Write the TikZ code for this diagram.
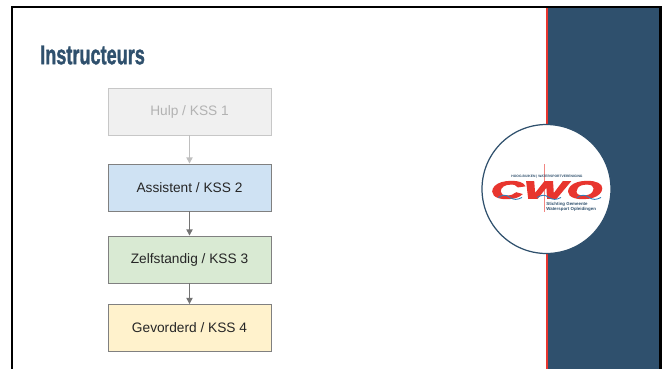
\documentclass[tikz,border=0pt]{standalone}
\usepackage{fontspec}
\setmainfont{Liberation Sans}
\newfontfamily\heavyfont[BoldFeatures={FakeBold=1.5}]{Liberation Sans}
\newfontfamily\logofont[BoldItalicFeatures={FakeBold=4}]{Liberation Sans}
\usetikzlibrary{arrows.meta}
\definecolor{cwoblue}{HTML}{2F506D}
\definecolor{cwored}{HTML}{E8352E}
\definecolor{waveblue}{HTML}{2F7FB8}
\definecolor{kssblue}{HTML}{CFE2F3}
\definecolor{kssgreen}{HTML}{D9EAD3}
\definecolor{kssyellow}{HTML}{FFF2CC}
\begin{document}
\begin{tikzpicture}[x=0.02cm, y=-0.02cm]
			\tikzstyle{levelnode}=[
			draw=black!50,
			line width=0.5pt,
			rectangle,
			minimum width=163*0.02cm,
			minimum height=47*0.02cm,
			inner sep=0pt,
			text=black!85,
			font=\fontsize{7.8}{10}\selectfont
			]
			\tikzstyle{levelarrow}=[
			draw=black!55,
			line width=0.7pt,
			-{Triangle[length=3.5pt,width=3.5pt]}
			]
			\useasboundingbox (0,0) rectangle (667,369);
			\fill[white] (0,0) rectangle (667,369);
			\fill[cwoblue] (546,6) rectangle (662,369);
			\fill[cwored] (546,8) rectangle (548,369);
			\draw[black, line width=1.2pt] (12,369) -- (12,7) -- (660.5,7) -- (660.5,369);
			\node[font=\heavyfont\bfseries\fontsize{15.5}{18}\selectfont, text=cwoblue, xscale=0.665, transform shape, anchor=west, inner sep=0pt] (TITLE) at (40,55) {Instructeurs};
			% levels
			\node[levelnode, fill=black!6, draw=black!22, text=black!30] (KSSA) at (189.5,111.5) {Hulp / KSS 1};
			\node[levelnode, fill=kssblue] (KSSB) at (189.5,187.5) {Assistent / KSS 2};
			\node[levelnode, fill=kssgreen] (KSSC) at (189.5,259.5) {Zelfstandig / KSS 3};
			\node[levelnode, fill=kssyellow] (KSSD) at (189.5,328) {Gevorderd / KSS 4};
			\draw[levelarrow, draw=black!25] (KSSA) -- (KSSB);
			\draw[levelarrow] (KSSB) -- (KSSC);
			\draw[levelarrow] (KSSC) -- (KSSD);
			% logo
			\node[circle, draw=cwoblue, fill=white, line width=0.7pt, minimum size=129*0.02cm, inner sep=0pt] (LOGO) at (546.5,189) {};
			\draw[cwored!60, line width=0.3pt] (544,164) -- (544,212);
			\node[font=\logofont\bfseries\itshape\fontsize{14}{14}\selectfont, text=cwored, xscale=1.85, transform shape, inner sep=0pt] (CWO) at (546.5,190) {CWO};
			\foreach \wavex in {498,537,577} {
				\draw[waveblue, line width=0.5pt] (\wavex,197.5) .. controls (\wavex+5,194.5) and (\wavex+8,194.5) .. (\wavex+12,197.5) .. controls (\wavex+16,200) and (\wavex+19,200) .. (\wavex+24,197.5);
			}
			\node[font=\bfseries\fontsize{1.9}{3}\selectfont, text=cwoblue, inner sep=0pt] (TOP) at (547,177) {HOOG-BUIKEN | WATERSPORTVERENIGING};
			\node[font=\bfseries\fontsize{2.5}{2.9}\selectfont, text=cwoblue, align=left, anchor=north west, inner sep=0pt] (SUB) at (546,201.5) {Stichting Gemeente\\Watersport Opleidingen};
\end{tikzpicture}
\end{document}
